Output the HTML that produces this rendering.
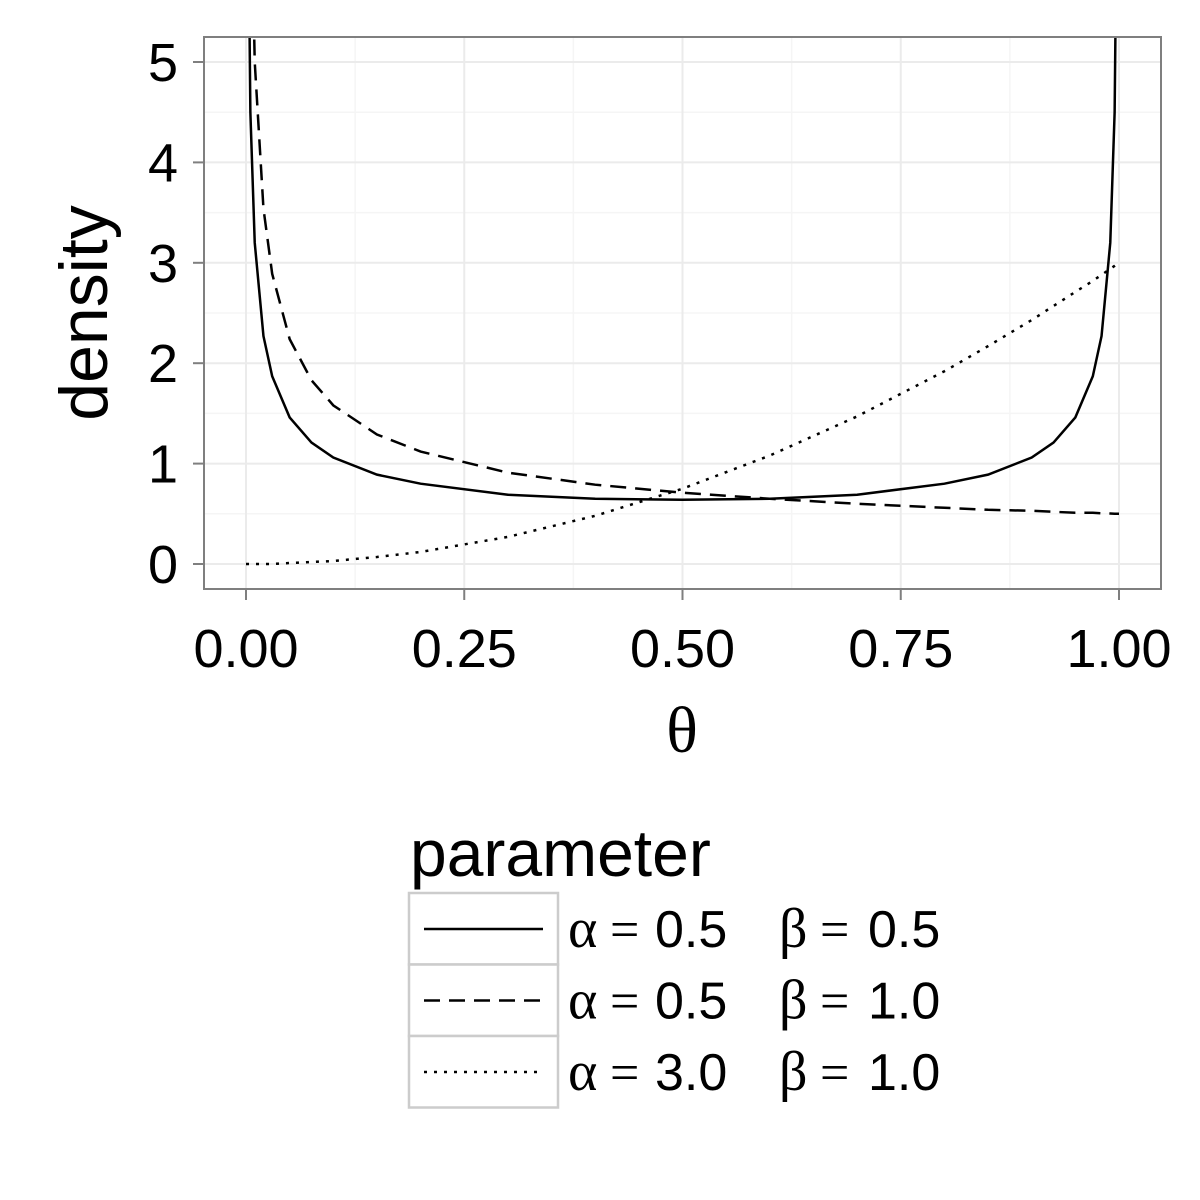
<!DOCTYPE html>
<html><head><meta charset="utf-8"><style>
body{margin:0;background:#fff}
svg{display:block}
text{font-family:"Liberation Sans",sans-serif;fill:#000}
.sf{font-family:"Liberation Serif",serif}
</style></head><body>
<svg id="chart" width="1200" height="1200" viewBox="0 0 1200 1200">
<defs><clipPath id="pc"><rect x="204" y="37" width="957" height="552"/></clipPath></defs>
<rect x="204" y="37" width="957" height="552" fill="#fff"/>
<g id="grid"></g>
<g id="series" clip-path="url(#pc)"></g>
<rect x="204" y="37" width="957" height="552" fill="none" stroke="#7f7f7f" stroke-width="2"/>
<g id="axes"></g>
<text transform="translate(107,313) rotate(-90)" text-anchor="middle" font-size="68">density</text>
<text x="682" y="752" text-anchor="middle" font-size="66" class="sf">θ</text>
<g>
<text x="410" y="876" font-size="66">parameter</text>
<g id="legend-keys"></g>
</g>
</svg>
<script>
const xVals=[0,0.002,0.005,0.01,0.02,0.03,0.05,0.075,0.1,0.15,0.2,0.3,0.4,0.5,0.6,0.7,0.8,0.85,0.9,0.925,0.95,0.97,0.98,0.99,0.995,0.998,1];
const seriesA=[null,7.1,4.5,3.2,2.27,1.87,1.46,1.21,1.06,0.89,0.80,0.69,0.65,0.64,0.65,0.69,0.80,0.89,1.06,1.21,1.46,1.87,2.27,3.2,4.5,7.1,null];
const seriesB=[null,11.2,7.07,5.0,3.54,2.89,2.24,1.83,1.58,1.29,1.12,0.91,0.79,0.71,0.65,0.60,0.56,0.54,0.53,0.52,0.51,0.51,0.505,0.503,0.501,0.5,0.5];
const seriesC=[0,0,0,0,0,0,0.01,0.02,0.03,0.07,0.12,0.27,0.48,0.75,1.08,1.47,1.92,2.17,2.43,2.57,2.71,2.82,2.88,2.94,2.97,2.99,3.0];
const xTicks=[0,0.25,0.5,0.75,1];
const xTickLabels=["0.00","0.25","0.50","0.75","1.00"];
const yTicks=[0,1,2,3,4,5];
const legendLabels=[["α","0.5","β","0.5"],["α","0.5","β","1.0"],["α","3.0","β","1.0"]];
const NS="http://www.w3.org/2000/svg";
const sx=v=>246+v*873, sy=v=>564-v*100.4;
function mk(t,a,p){const e=document.createElementNS(NS,t);for(const k in a)e.setAttribute(k,a[k]);p.appendChild(e);return e;}
const grid=document.getElementById('grid');
for(let i=0;i<4;i++){const v=0.125+i*0.25;const l=mk('line',{x1:sx(v),x2:sx(v),y1:37,y2:589,stroke:'#f5f5f5','stroke-width':1.5},grid);
}
for(let i=0;i<6;i++){const v=i+0.5;if(sy(v)<37)continue;const l=mk('line',{x1:204,x2:1161,y1:sy(v),y2:sy(v),stroke:'#f5f5f5','stroke-width':1.5},grid);
}
xTicks.forEach(v=>{const l=mk('line',{x1:sx(v),x2:sx(v),y1:37,y2:589,stroke:'#ebebeb','stroke-width':2},grid);
});
yTicks.forEach(v=>{const l=mk('line',{x1:204,x2:1161,y1:sy(v),y2:sy(v),stroke:'#ebebeb','stroke-width':2},grid);
});
const axes=document.getElementById('axes');
xTicks.forEach((v,i)=>{const t=mk('line',{x1:sx(v),x2:sx(v),y1:589,y2:600,stroke:'#7f7f7f','stroke-width':2},axes);

const tx=mk('text',{x:sx(v),y:667,'text-anchor':'middle','font-size':54},axes);tx.textContent=xTickLabels[i];
});
yTicks.forEach(v=>{const t=mk('line',{x1:193,x2:204,y1:sy(v),y2:sy(v),stroke:'#7f7f7f','stroke-width':2},axes);

const tx=mk('text',{x:178,y:sy(v)+19,'text-anchor':'end','font-size':54},axes);tx.textContent=String(v);
});
const dashes=['none','16,9','3,7'];
const names=['line-alpha05-beta05','line-alpha05-beta10','line-alpha30-beta10'];
const ser=document.getElementById('series');
[seriesA,seriesB,seriesC].forEach((s,k)=>{let d='';s.forEach((v,i)=>{if(v===null)return;d+=(d?'L':'M')+sx(xVals[i])+','+sy(v);});
const p=mk('path',{d:d,fill:'none',stroke:'#000','stroke-width':2.5,'stroke-dasharray':dashes[k]},ser);
});
const lk=document.getElementById('legend-keys');
legendLabels.forEach((lab,k)=>{const y0=893+k*71.5;
const r=mk('rect',{x:409,y:y0,width:149,height:71.5,fill:'#fff',stroke:'#ccc','stroke-width':2.5},lk);

const l=mk('line',{x1:424,x2:543,y1:y0+36,y2:y0+36,stroke:'#000','stroke-width':2.5,'stroke-dasharray':dashes[k]},lk);

const t=mk('text',{x:568,y:y0+54,'font-size':52},lk);

t.innerHTML='<tspan class="sf" font-size="56">'+lab[0]+'</tspan><tspan class="sf" x="610">=</tspan><tspan x="655">'+lab[1]+'</tspan><tspan class="sf" x="779" font-size="56">'+lab[2]+'</tspan><tspan class="sf" x="820">=</tspan><tspan x="868">'+lab[3]+'</tspan>';});
</script>
</body></html>
